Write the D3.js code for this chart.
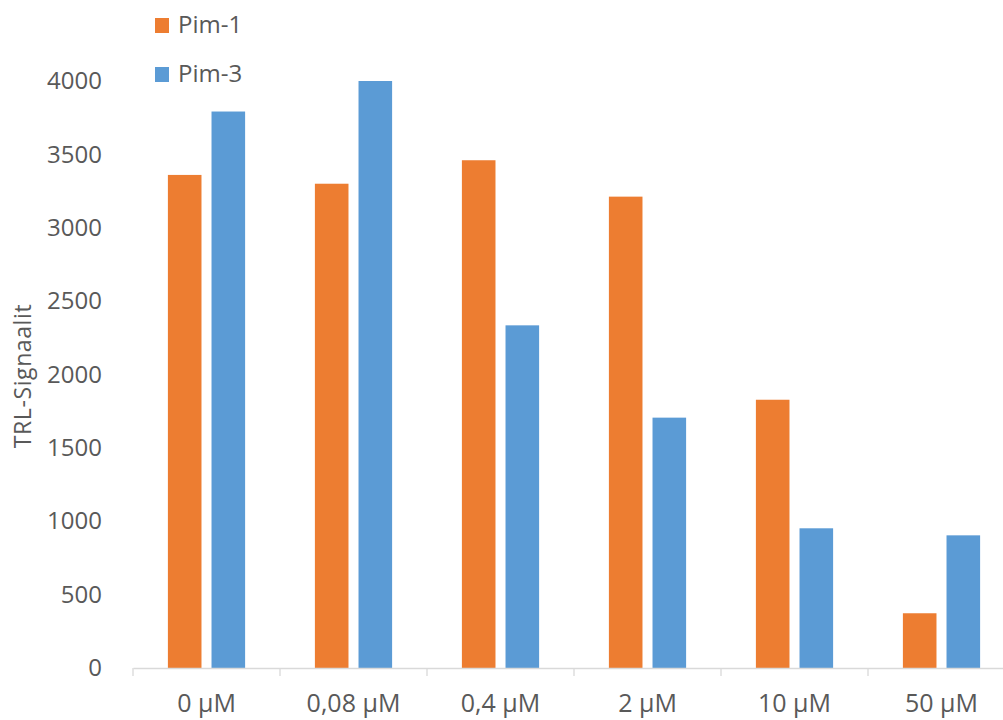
<!DOCTYPE html>
<html>
<head>
<meta charset="utf-8">
<script src="https://cdn.jsdelivr.net/npm/d3@7"></script>
<style>
  html, body { margin: 0; padding: 0; background: #fff; }
  svg { display: block; }
  text { font-family: "Open Sans", "Noto Sans", sans-serif; fill: #595959; }
</style>
</head>
<body>
<svg id="chart" width="1003" height="720"></svg>
<script>
const categories = ["0 µM", "0,08 µM", "0,4 µM", "2 µM", "10 µM", "50 µM"];
const seriesNames = ["Pim-1", "Pim-3"];
const pim1 = [3360, 3300, 3460, 3212, 1828, 373];
const pim3 = [3792, 4000, 2335, 1706, 952, 904];
const yTicks = [0, 500, 1000, 1500, 2000, 2500, 3000, 3500, 4000];
const colors = ["#ED7D31", "#5B9BD5"];

const svg = d3.select("#chart");
const plot = { left: 133, right: 1015, top: 81, bottom: 668 };

const x = d3.scaleBand().domain(categories).range([plot.left, plot.right]).paddingInner(0).paddingOuter(0);
const xs = d3.scaleBand().domain(seriesNames).range([0, x.bandwidth()]).paddingInner(0.23).paddingOuter(0.8);
const y = d3.scaleLinear().domain([0, 4000]).range([plot.bottom, plot.top]);

const rows = categories.map((c, i) => ({ cat: c, vals: [pim1[i], pim3[i]] }));

// grouped bars
const g = svg.append("g");
rows.forEach(r => {
  r.vals.forEach((v, j) => {
    g.append("rect")
      .attr("x", x(r.cat) + xs(seriesNames[j]))
      .attr("y", y(v))
      .attr("width", xs.bandwidth())
      .attr("height", y(0) - y(v))
      .attr("fill", colors[j]);
  });
});

// x axis with category boundary ticks
const xAxis = d3.axisBottom(x).tickSize(0).tickPadding(0);
const xg = svg.append("g").attr("transform", `translate(0,${plot.bottom})`).call(xAxis);
xg.select(".domain").attr("stroke", "#d9d9d9").attr("stroke-width", 1.3);
xg.selectAll(".tick text").attr("font-size", 25).attr("fill", "#595959").attr("dy", null).attr("y", 44);
const bounds = categories.map(c => x(c));
xg.selectAll("line.bound").data(bounds).enter().append("line")
  .attr("class", "bound")
  .attr("x1", d => d).attr("x2", d => d).attr("y1", 0).attr("y2", 8)
  .attr("stroke", "#d9d9d9").attr("stroke-width", 1.3);

// y axis labels
const yAxis = d3.axisLeft(y).tickValues(yTicks).tickSize(0).tickPadding(0).tickFormat(d3.format("d"));
const yg = svg.append("g").attr("transform", `translate(102,0)`).call(yAxis);
yg.select(".domain").remove();
yg.selectAll(".tick text").attr("font-size", 24).attr("fill", "#595959");

// y axis title
svg.append("text")
  .attr("transform", `translate(23,376) rotate(-90)`)
  .attr("text-anchor", "middle")
  .attr("dy", "0.35em")
  .attr("font-size", 23)
  .attr("letter-spacing", 0.6)
  .text("TRL-Signaalit");

// legend
const leg = svg.append("g");
seriesNames.forEach((s, i) => {
  const ly = 25 + i * 49;
  leg.append("rect").attr("x", 155).attr("y", ly - 7).attr("width", 14).attr("height", 15).attr("fill", colors[i]);
  leg.append("text").attr("x", 178).attr("y", ly).attr("dy", "0.35em").attr("font-size", 24).text(s);
});
</script>
</body>
</html>
